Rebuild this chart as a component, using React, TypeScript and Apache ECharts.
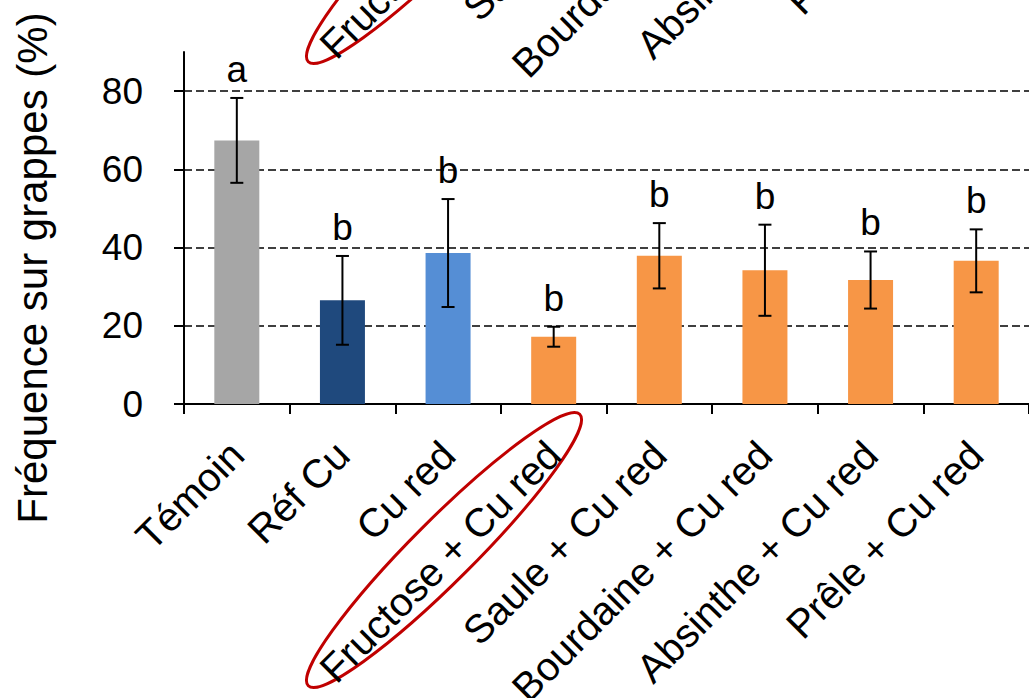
import React, { useEffect, useRef } from "react";
import * as echarts from "echarts";

const categories = [
  "Témoin",
  "Réf Cu",
  "Cu red",
  "Fructose + Cu red",
  "Saule + Cu red",
  "Bourdaine + Cu red",
  "Absinthe + Cu red",
  "Prêle + Cu red",
];
const means = [67.4, 26.5, 38.6, 17.2, 37.9, 34.2, 31.7, 36.6];
const errors = [10.85, 11.35, 13.8, 2.55, 8.35, 11.65, 7.3, 8.05];
const letters = ["a", "b", "b", "b", "b", "b", "b", "b"];
const barColors = ["#a6a6a6", "#1f497d", "#558ed5", "#f79646", "#f79646", "#f79646", "#f79646", "#f79646"];
const yTicks = [0, 20, 40, 60, 80];

const FONT = "'Liberation Sans', Arial, sans-serif";

export default function App() {
  const ref = useRef<HTMLDivElement>(null);
  useEffect(() => {
    if (!ref.current) return;
    const chart = echarts.init(ref.current, null, { renderer: "svg" });
    const xLabel = {
      rotate: 45,
      fontSize: 40,
      fontFamily: FONT,
      color: "#000",
      margin: 44,
      interval: 0,
    };
    chart.setOption({
      animation: false,
      backgroundColor: "#fff",
      grid: [
        { left: 184, right: 0, top: 52, bottom: 294, outerBoundsMode: "none", containLabel: false },
        { left: 184, right: 0, top: 52 - 624, height: 352, outerBoundsMode: "none", containLabel: false },
      ],
      xAxis: [
        {
          type: "category",
          data: categories,
          gridIndex: 0,
          axisLine: { lineStyle: { color: "#000", width: 2 } },
          axisTick: { show: true, length: 10, lineStyle: { color: "#000", width: 2 } },
          axisLabel: xLabel,
        },
        {
          type: "category",
          data: categories,
          gridIndex: 1,
          axisLine: { show: false },
          axisTick: { show: false },
          axisLabel: xLabel,
        },
      ],
      yAxis: [
        {
          type: "value",
          gridIndex: 0,
          min: 0,
          max: 90,
          interval: 20,
          axisLine: { show: true, lineStyle: { color: "#000", width: 2 } },
          axisTick: { show: true, length: 10, lineStyle: { color: "#000", width: 2 }, customValues: yTicks },
          axisLabel: {
            fontSize: 37,
            fontFamily: FONT,
            color: "#000",
            margin: 41,
            customValues: yTicks,
          },
          splitLine: {
            show: true,
            lineStyle: { color: "#000", type: [8, 4], width: 1.5 },
          },
        },
        { type: "value", gridIndex: 1, show: false, min: 0, max: 90 },
      ],
      series: [
        {
          type: "bar",
          xAxisIndex: 0,
          yAxisIndex: 0,
          barWidth: 45,
          data: means.map((v, i) => ({ value: v, itemStyle: { color: barColors[i] } })),
        },
        {
          type: "custom",
          xAxisIndex: 0,
          yAxisIndex: 0,
          data: means.map((m, i) => [i, m - errors[i], m + errors[i], letters[i]]),
          renderItem: (params: any, api: any) => {
            const i = api.value(0);
            const lo = api.coord([i, api.value(1)]);
            const hi = api.coord([i, api.value(2)]);
            const x = lo[0];
            const cap = 6.5;
            const st = { stroke: "#000", lineWidth: 2 };
            return {
              type: "group",
              children: [
                { type: "line", shape: { x1: x, y1: lo[1], x2: x, y2: hi[1] }, style: st },
                { type: "line", shape: { x1: x - cap, y1: lo[1], x2: x + cap, y2: lo[1] }, style: st },
                { type: "line", shape: { x1: x - cap, y1: hi[1], x2: x + cap, y2: hi[1] }, style: st },
                {
                  type: "text",
                  x: x,
                  y: hi[1] - 10,
                  style: {
                    text: letters[params.dataIndex],
                    fontSize: 37,
                    fontFamily: FONT,
                    fill: "#000",
                    align: "center",
                    verticalAlign: "bottom",
                  },
                },
              ],
            };
          },
          z: 5,
        },
      ],
      graphic: [
        {
          type: "text",
          x: 32,
          y: 268,
          rotation: Math.PI / 2,
          style: {
            text: "Fréquence sur grappes (%)",
            fontSize: 42,
            fontFamily: FONT,
            fill: "#000",
            align: "center",
            verticalAlign: "middle",
          },
        },
        {
          type: "ellipse",
          x: 444,
          y: 550,
          rotation: Math.PI / 4,
          shape: { cx: 0, cy: 0, rx: 192, ry: 31 },
          style: { fill: "none", stroke: "#c00000", lineWidth: 3 },
        },
        {
          type: "ellipse",
          x: 444,
          y: 550 - 624,
          rotation: Math.PI / 4,
          shape: { cx: 0, cy: 0, rx: 192, ry: 31 },
          style: { fill: "none", stroke: "#c00000", lineWidth: 3 },
        },
      ],
    });
    return () => chart.dispose();
  }, []);
  return (
    <div
      ref={ref}
      style={{ position: "absolute", left: 0, top: 0, width: 1029, height: 698 }}
    />
  );
}
